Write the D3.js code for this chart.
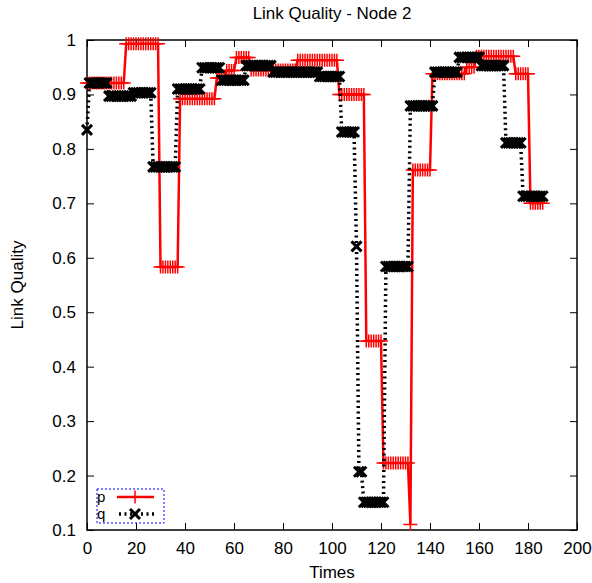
<!DOCTYPE html>
<html>
<head>
<meta charset="utf-8">
<script src="https://cdn.jsdelivr.net/npm/d3@7"></script>
<style>
  body { margin: 0; background: #fff; }
  text { font-family: "Liberation Sans", Arial, sans-serif; fill: #000; }
</style>
</head>
<body>
<svg id="grafico"></svg>
<script>
// Dados (degraus: tempo inicial -> valor)
var pInicio = [0, 16, 30, 38, 53, 57, 61, 67, 86, 103, 114, 121, 132, 133, 141, 155, 159, 175, 181];
var pValor  = [0.921, 0.993, 0.583, 0.892, 0.93, 0.944, 0.968, 0.945, 0.963, 0.9, 0.447, 0.223, 0.11, 0.761, 0.938, 0.95, 0.97, 0.938, 0.70];
var qInicio = [0, 1, 9, 19, 27, 37, 47, 55, 65, 76, 95, 104, 110, 111, 113, 122, 132, 142, 152, 161, 171, 178];
var qValor  = [0.835, 0.921, 0.897, 0.903, 0.767, 0.91, 0.949, 0.926, 0.953, 0.941, 0.933, 0.831, 0.621, 0.207, 0.151, 0.584, 0.879, 0.941, 0.968, 0.953, 0.811, 0.713];
var tempoFinal = 186;
var ticksX = [0, 20, 40, 60, 80, 100, 120, 140, 160, 180, 200];
var ticksY = [0.1, 0.2, 0.3, 0.4, 0.5, 0.6, 0.7, 0.8, 0.9, 1];

// expande os degraus em um ponto por unidade de tempo
function expande(inicios, valores) {
    var pontos = [];
    for (var i = 0; i < inicios.length; i++) {
        var fim = i + 1 < inicios.length ? inicios[i + 1] - 1 : tempoFinal;
        for (var t = inicios[i]; t <= fim; t++) pontos.push({ t: t, v: valores[i] });
    }
    return pontos;
}
var dadosP = expande(pInicio, pValor);
var dadosQ = expande(qInicio, qValor);

var largura = 592, altura = 583;
var margem = { esquerda: 87, direita: 15, superior: 40, inferior: 53 };
var larguraPlotagem = largura - margem.esquerda - margem.direita;
var alturaPlotagem = altura - margem.superior - margem.inferior;
var fonte = '17px';

var svg = d3.select('#grafico').attr('width', largura).attr('height', altura);
var plotagem = svg.append('g')
    .attr('transform', 'translate(' + margem.esquerda + ',' + margem.superior + ')');

var x = d3.scaleLinear().domain([0, 200]).range([0, larguraPlotagem]);
var y = d3.scaleLinear().domain([0.1, 1]).range([alturaPlotagem, 0]);

// Eixos (marcas para dentro, espelhadas)
var fmtY = d3.format('.1f');
var eixoX = d3.axisBottom(x).tickValues(ticksX).tickSize(-7).tickPadding(12);
var eixoY = d3.axisLeft(y).tickValues(ticksY).tickSize(-7).tickPadding(11)
    .tickFormat(d => d === 1 ? '1' : fmtY(d));
var eixoXTopo = d3.axisTop(x).tickValues(ticksX).tickSize(-7).tickFormat('');
var eixoYDir = d3.axisRight(y).tickValues(ticksY).tickSize(-7).tickFormat('');

function estiliza(g) {
    g.select('.domain').remove();
    g.selectAll('line').attr('stroke', '#000').attr('stroke-width', 1);
    g.selectAll('text').style('font-size', fonte)
        .style('font-family', '"Liberation Sans", Arial, sans-serif');
}
plotagem.append('g').attr('transform', 'translate(0,' + alturaPlotagem + ')').call(eixoX).call(estiliza);
plotagem.append('g').call(eixoY).call(estiliza);
plotagem.append('g').call(eixoXTopo).call(estiliza);
plotagem.append('g').attr('transform', 'translate(' + larguraPlotagem + ',0)').call(eixoYDir).call(estiliza);

plotagem.append('rect')
    .attr('width', larguraPlotagem).attr('height', alturaPlotagem)
    .attr('fill', 'none').attr('stroke', '#000').attr('stroke-width', 1.5);

// Títulos
svg.append('text').attr('x', margem.esquerda + larguraPlotagem / 2).attr('y', 19)
    .attr('text-anchor', 'middle').style('font-size', fonte).text('Link Quality - Node 2');
svg.append('text').attr('x', margem.esquerda + larguraPlotagem / 2).attr('y', 578)
    .attr('text-anchor', 'middle').style('font-size', fonte).text('Times');
svg.append('text').attr('transform', 'translate(23,' + (margem.superior + alturaPlotagem / 2) + ') rotate(-90)')
    .attr('text-anchor', 'middle').style('font-size', fonte).text('Link Quality');

var linha = d3.line().x(d => x(d.t)).y(d => y(d.v));
var mais = 'M-7,0H7M0,-6.5V6.5';
var vezes = 'M-5,-5L5,5M-5,5L5,-5';

// série p
plotagem.append('path').datum(dadosP).attr('d', linha)
    .attr('fill', 'none').attr('stroke', '#ff0000').attr('stroke-width', 2.5);
plotagem.selectAll('.pontoP').data(dadosP).enter().append('path')
    .classed('pontoP', true)
    .attr('d', mais)
    .attr('transform', d => 'translate(' + x(d.t) + ',' + y(d.v) + ')')
    .attr('stroke', '#ff0000').attr('stroke-width', 1.5).attr('fill', 'none');

// série q
plotagem.append('path').datum(dadosQ).attr('d', linha)
    .attr('fill', 'none').attr('stroke', '#000').attr('stroke-width', 3.5)
    .attr('stroke-dasharray', '2,3.5');
plotagem.selectAll('.pontoQ').data(dadosQ).enter().append('path')
    .classed('pontoQ', true)
    .attr('d', vezes)
    .attr('transform', d => 'translate(' + x(d.t) + ',' + y(d.v) + ')')
    .attr('stroke', '#000').attr('stroke-width', 3).attr('fill', 'none');

// Legenda
var legenda = svg.append('g');
legenda.append('rect').attr('x', 97).attr('y', 489).attr('width', 67).attr('height', 34)
    .attr('fill', 'none').attr('stroke', '#0000ff').attr('stroke-width', 1).attr('stroke-dasharray', '2,2');
legenda.append('text').attr('x', 97).attr('y', 502).style('font-size', '15px').text('p');
legenda.append('text').attr('x', 97).attr('y', 519).style('font-size', '15px').text('q');
legenda.append('line').attr('x1', 117).attr('x2', 154).attr('y1', 497).attr('y2', 497)
    .attr('stroke', '#ff0000').attr('stroke-width', 2.5);
legenda.append('path').attr('d', mais).attr('transform', 'translate(135,497)')
    .attr('stroke', '#ff0000').attr('stroke-width', 1.5);
legenda.append('line').attr('x1', 119).attr('x2', 154).attr('y1', 514).attr('y2', 514)
    .attr('stroke', '#000').attr('stroke-width', 3.5).attr('stroke-dasharray', '2,3.5');
legenda.append('path').attr('d', vezes).attr('transform', 'translate(135,514)')
    .attr('stroke', '#000').attr('stroke-width', 3);
</script>
</body>
</html>
